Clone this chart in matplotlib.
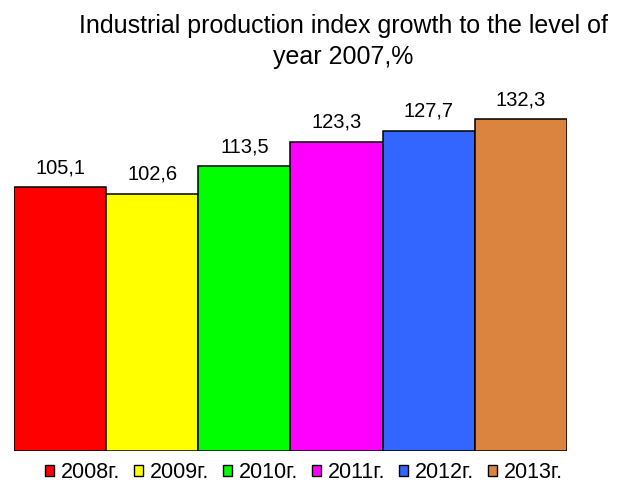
import matplotlib
matplotlib.use("Agg")
import matplotlib.pyplot as plt
from matplotlib.patches import Patch

plt.rcParams["font.family"] = ["Liberation Sans", "DejaVu Sans"]

# Data
years = ["2008г.", "2009г.", "2010г.", "2011г.", "2012г.", "2013г."]
values = [105.1, 102.6, 113.5, 123.3, 127.7, 132.3]
value_labels = ["105,1", "102,6", "113,5", "123,3", "127,7", "132,3"]
colors = ["#FF0000", "#FFFF00", "#00FF00", "#FF00FF", "#3366FF", "#DB843F"]
title = "Industrial production index growth to the level of\nyear 2007,%"

W, H = 629, 484
fig = plt.figure(figsize=(W / 100, H / 100), dpi=100)
# axes box in pixels: left 14, right 567, bottom 451, 0..140 units tall
ax = fig.add_axes([14 / W, (H - 451) / H, 553 / W, 140 * 2.508 / H])

x = range(len(values))
ax.bar(x, values, width=1.0, color=colors, edgecolor="black", linewidth=1.1)
ax.set_xlim(-0.5, len(values) - 0.5)
ax.set_ylim(0, 140)
ax.axis("off")

for xi, v, lab in zip(x, values, value_labels):
    ax.annotate(lab, (xi, v), xytext=(0, 10), textcoords="offset points",
                ha="center", va="baseline", fontsize=14.5)

fig.text(343.5 / W, 1 - 14 / H, title, ha="center", va="top",
         fontsize=18, linespacing=1.38)

handles = [Patch(facecolor=c, edgecolor="black", linewidth=1.0) for c in colors]
fig.legend(handles, years, loc="center", bbox_to_anchor=(304 / W, 1 - 473 / H),
           ncol=len(years), frameon=False, fontsize=15.5,
           handlelength=0.42, handleheight=0.42, handletextpad=0.33,
           columnspacing=0.62, borderpad=0.1)

fig.savefig("out.png", dpi=100)
